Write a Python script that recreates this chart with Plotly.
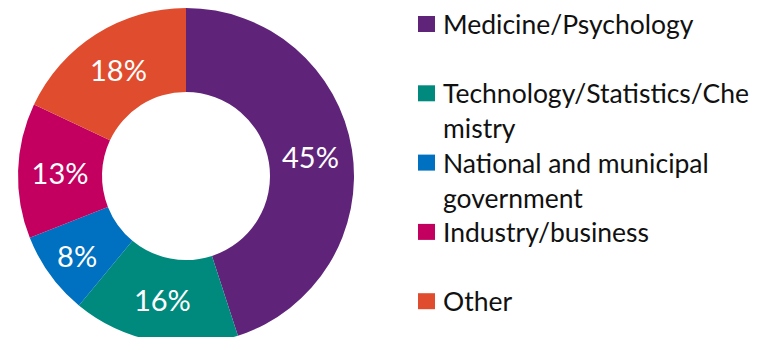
import plotly.graph_objects as go

# Share of respondents by sector
categories = [
    "Medicine/Psychology",
    "Technology/Statistics/Chemistry",
    "National and municipal government",
    "Industry/business",
    "Other",
]
shares = [45, 16, 8, 13, 18]
colors = ["#5F247A", "#008A7E", "#0070C0", "#C3005F", "#E04D2E"]
# How each legend label wraps onto lines
legend_lines = [
    ["Medicine/Psychology"],
    ["Technology/Statistics/Che", "mistry"],
    ["National and municipal", "government"],
    ["Industry/business"],
    ["Other"],
]
source_text = "Source: Sundhedsdatastyrelsen"

W, H = 761, 344
FONT = "Lato"

fig = go.Figure(
    go.Pie(
        labels=categories,
        values=shares,
        hole=0.5,
        sort=False,
        direction="clockwise",
        rotation=0,
        marker=dict(colors=colors, line=dict(width=0)),
        texttemplate="%{value}%",
        textposition="inside",
        insidetextorientation="horizontal",
        textfont=dict(family=FONT, size=29, color="white"),
        showlegend=False,
        domain=dict(x=[18 / W, 354 / W], y=[0, 336 / H]),
    )
)

# Hand-placed legend: one square per category, label lines beside it
item_top = 24
item_step = 69.3
line_step = 35
annotations = []
shapes = []
for i, (lines, col) in enumerate(zip(legend_lines, colors)):
    yc = item_top + item_step * i
    shapes.append(dict(
        type="rect", xref="paper", yref="paper",
        x0=418 / W, x1=435 / W,
        y0=1 - (yc + 8) / H, y1=1 - (yc - 8) / H,
        fillcolor=col, line=dict(width=0),
    ))
    for j, txt in enumerate(lines):
        annotations.append(dict(
            text=txt, xref="paper", yref="paper",
            x=441 / W, y=1 - (yc + j * line_step) / H,
            xanchor="left", yanchor="middle", showarrow=False,
            font=dict(family=FONT, size=26.5, color="#111111"),
        ))

annotations.append(dict(
    text=source_text, xref="paper", yref="paper",
    x=535 / W, y=1 - 331 / H, xanchor="left", yanchor="top",
    showarrow=False,
    font=dict(family=FONT, size=20, color="#111111"),
))

fig.update_layout(
    width=W, height=H,
    margin=dict(l=0, r=0, t=0, b=0),
    paper_bgcolor="white",
    plot_bgcolor="white",
    annotations=annotations,
    shapes=shapes,
)

fig.write_html("out.html")
